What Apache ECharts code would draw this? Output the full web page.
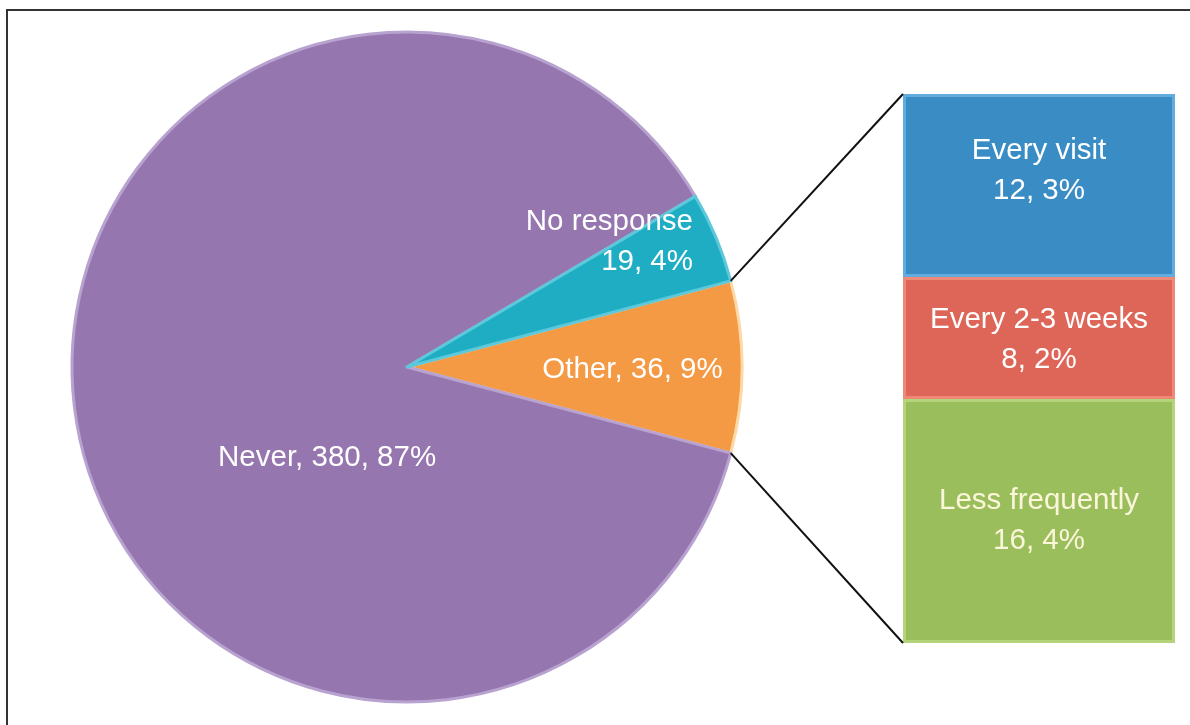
<!DOCTYPE html>
<html>
<head>
<meta charset="utf-8">
<script src="https://cdn.jsdelivr.net/npm/echarts@6/dist/echarts.min.js"></script>
<style>
html,body{margin:0;padding:0;background:#fff;}
#chart{width:1190px;height:725px;}
</style>
</head>
<body>
<div id="chart"></div>
<script>
// ---- data ----
const pieNames = ['Other', 'Never', 'No response'];
const pieValues = [36, 380, 19];
const piePercents = ['9%', '87%', '4%'];
const barNames = ['Less frequently', 'Every 2-3 weeks', 'Every visit'];
const barValues = [16, 8, 12];
const barPercents = ['4%', '2%', '3%'];

const pieColors = ['#F49A45', '#9676AE', '#1FADC4'];
const pieBorders = ['#FCD9A6', '#B8A2D0', '#5CC8DA'];
const barColors = ['#9BBE5C', '#DE6658', '#3A8CC5'];
const barBorders = ['#B4D37A', '#F08878', '#62ABDD'];

const CX = 407, CY = 367, R = 335;
const total = pieValues.reduce((a, b) => a + b, 0);
const otherSpan = pieValues[0] / total * 360;
const startAngle = otherSpan / 2;
const FONT = 'Liberation Sans, Arial, sans-serif';
const FS = 29.5;

const pieLabelOpts = [
  { formatter: p => p.name + ', ' + p.value + ', ' + piePercents[p.dataIndex], offset: [55, 3] },
  { formatter: p => p.name + ', ' + p.value + ', ' + piePercents[p.dataIndex], offset: [89, 68] },
  { formatter: p => p.name + '\n' + p.value + ', ' + piePercents[p.dataIndex] }
];

const barLabelOffsets = [[0, 0], [0, 2], [0, -15]];

const chart = echarts.init(document.getElementById('chart'), null, { renderer: 'canvas' });

const series = [{
  type: 'pie',
  center: [CX, CY],
  radius: R,
  startAngle: startAngle,
  clockwise: true,
  animation: false,
  silent: true,
  data: pieNames.map((n, i) => ({
    name: n,
    value: pieValues[i],
    itemStyle: { color: pieColors[i], borderColor: pieBorders[i], borderWidth: 3 },
    label: Object.assign({
      show: true,
      position: 'inside',
      color: '#ffffff',
      fontSize: FS,
      lineHeight: 40,
      fontFamily: FONT
    }, pieLabelOpts[i])
  })),
  labelLine: { show: false },
  labelLayout: function (params) {
    if (params.dataIndex === 2) {
      return { x: CX + 286, y: CY - 125, align: 'right', verticalAlign: 'middle' };
    }
    return {};
  }
}];

barNames.forEach((n, i) => {
  series.push({
    type: 'bar',
    name: n,
    stack: 'other',
    barWidth: '100%',
    animation: false,
    silent: true,
    data: [barValues[i]],
    itemStyle: { color: barColors[i], borderColor: barBorders[i], borderWidth: 3 },
    label: {
      show: true,
      position: 'inside',
      color: i === 0 ? '#FBF6DA' : '#ffffff',
      fontSize: FS,
      lineHeight: 40,
      fontFamily: FONT,
      offset: barLabelOffsets[i],
      formatter: () => n + '\n' + barValues[i] + ', ' + barPercents[i]
    }
  });
});

chart.setOption({
  backgroundColor: '#ffffff',
  animation: false,
  grid: { left: 903, right: 15, top: 94, bottom: 82, containLabel: false },
  xAxis: { type: 'category', data: ['Other'], show: false, boundaryGap: true },
  yAxis: { type: 'value', min: 0, max: pieValues[0], show: false },
  series: series
});

// connector lines from pie slice edges to bar corners
const grid = chart.getModel().getComponent('grid').coordinateSystem.getRect();
const yTop = chart.convertToPixel({ yAxisIndex: 0 }, pieValues[0]);
const yBot = chart.convertToPixel({ yAxisIndex: 0 }, 0);
const a = startAngle * Math.PI / 180;
const p1 = [CX + R * Math.cos(a), CY - R * Math.sin(a)];
const p2 = [CX + R * Math.cos(-a), CY - R * Math.sin(-a)];

chart.setOption({
  graphic: [
    { type: 'line', shape: { x1: p1[0], y1: p1[1], x2: grid.x, y2: yTop }, style: { stroke: '#111', lineWidth: 2 }, silent: true, z: 10 },
    { type: 'line', shape: { x1: p2[0], y1: p2[1], x2: grid.x, y2: yBot }, style: { stroke: '#111', lineWidth: 2 }, silent: true, z: 10 },
    { type: 'polyline', shape: { points: [[7, 740], [7, 10], [1200, 10]] }, style: { fill: 'none', stroke: '#333', lineWidth: 2 }, silent: true, z: 10 }
  ]
});
</script>
</body>
</html>
